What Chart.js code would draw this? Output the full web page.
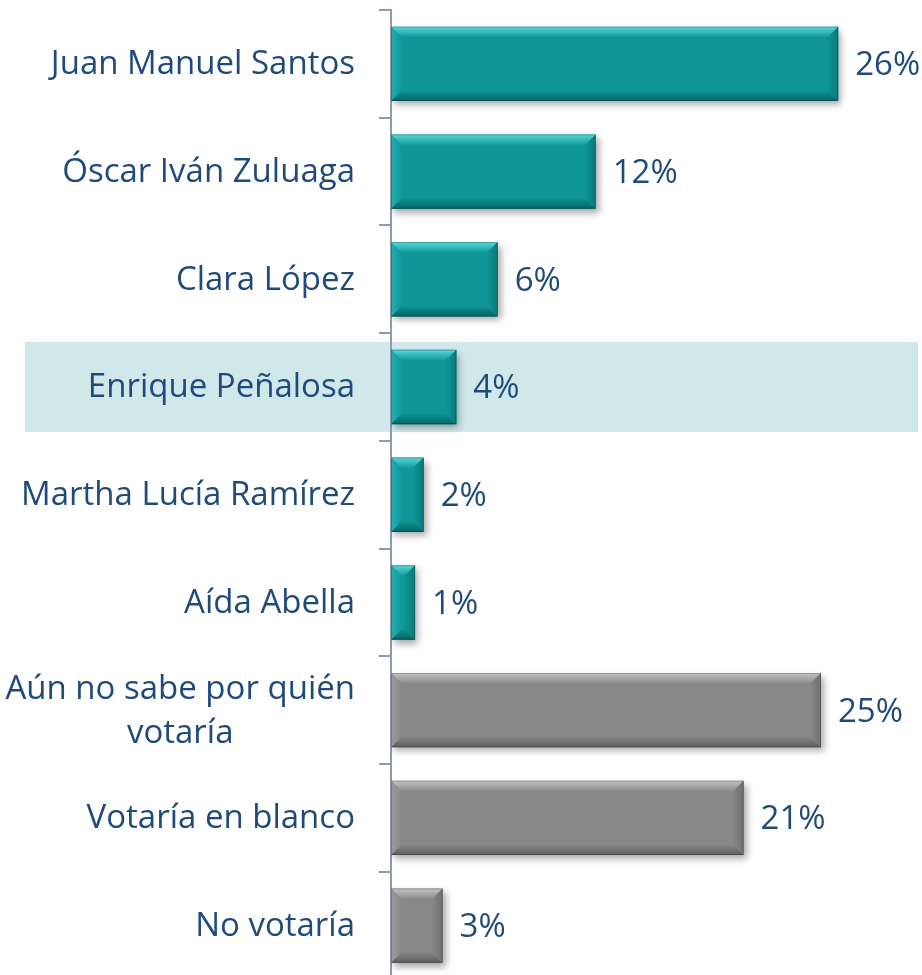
<!DOCTYPE html>
<html>
<head>
<meta charset="utf-8">
<script src="https://cdn.jsdelivr.net/npm/chart.js@4"></script>
<style>
  html, body { margin: 0; padding: 0; background: #ffffff; overflow: hidden; }
  #wrap { width: 922px; height: 975px; overflow: hidden; }
</style>
</head>
<body>
<div id="wrap"><canvas id="c" width="922" height="990"></canvas></div>
<script>
const categories = [
  'Juan Manuel Santos',
  'Óscar Iván Zuluaga',
  'Clara López',
  'Enrique Peñalosa',
  'Martha Lucía Ramírez',
  'Aída Abella',
  ['Aún no sabe por quién', 'votaría'],
  'Votaría en blanco',
  'No votaría'
];
const values = [26, 11.9, 6.2, 3.8, 1.9, 1.4, 25, 20.5, 3];
const valueLabels = ['26%', '12%', '6%', '4%', '2%', '1%', '25%', '21%', '3%'];
const groups = ['candidato', 'candidato', 'candidato', 'candidato', 'candidato', 'candidato', 'otro', 'otro', 'otro'];
const highlightIndex = 3;

const FONT = '"Open Sans", "Noto Sans", sans-serif';
const FONT_SIZE = 33;
const TEXT_COLOR = '#1f4a7c';
const PAL = {
  candidato: { base: '#0e9696', top: '#5ad9d9', left: '#24afaf', right: '#097a7a', bottom: '#056464' },
  otro:      { base: '#888888', top: '#c4c4c4', left: '#9a9a9a', right: '#707070', bottom: '#5e5e5e' }
};

const bandPlugin = {
  id: 'band',
  beforeDraw(chart) {
    const y = chart.scales.y;
    const cy = y.getPixelForValue(highlightIndex);
    const ctx = chart.ctx;
    ctx.save();
    ctx.fillStyle = '#d0e8e9';
    ctx.fillRect(25, cy - 45, 893, 90);
    ctx.restore();
  }
};

const shadowPlugin = {
  id: 'shadow',
  beforeDatasetDraw(chart) {
    const ctx = chart.ctx;
    ctx.save();
    ctx.shadowColor = 'rgba(0,0,0,0.35)';
    ctx.shadowBlur = 7;
    ctx.shadowOffsetX = 3;
    ctx.shadowOffsetY = 4;
  },
  afterDatasetDraw(chart) {
    chart.ctx.restore();
  }
};

const bevelPlugin = {
  id: 'bevel',
  afterDatasetsDraw(chart) {
    const ctx = chart.ctx;
    const meta = chart.getDatasetMeta(0);
    meta.data.forEach((bar, i) => {
      const p = PAL[groups[i]];
      const l = Math.min(bar.base, bar.x), r = Math.max(bar.base, bar.x);
      const t = bar.y - bar.height / 2, b = bar.y + bar.height / 2;
      const bv = Math.min(11, (r - l) / 2);
      const poly = (pts, fill) => {
        ctx.beginPath();
        ctx.moveTo(pts[0][0], pts[0][1]);
        for (let k = 1; k < pts.length; k++) ctx.lineTo(pts[k][0], pts[k][1]);
        ctx.closePath();
        ctx.fillStyle = fill;
        ctx.fill();
      };
      ctx.save();
      let g = ctx.createLinearGradient(0, t, 0, t + bv);
      g.addColorStop(0, p.top);
      g.addColorStop(1, p.base);
      poly([[l, t], [r, t], [r - bv, t + bv], [l + bv, t + bv]], g);
      g = ctx.createLinearGradient(0, b - bv, 0, b);
      g.addColorStop(0, p.base);
      g.addColorStop(1, p.bottom);
      poly([[l, b], [r, b], [r - bv, b - bv], [l + bv, b - bv]], g);
      g = ctx.createLinearGradient(l, 0, l + bv, 0);
      g.addColorStop(0, p.left);
      g.addColorStop(1, p.base);
      poly([[l, t], [l + bv, t + bv], [l + bv, b - bv], [l, b]], g);
      g = ctx.createLinearGradient(r - bv, 0, r, 0);
      g.addColorStop(0, p.base);
      g.addColorStop(1, p.right);
      poly([[r, t], [r - bv, t + bv], [r - bv, b - bv], [r, b]], g);
      ctx.strokeStyle = 'rgba(0,0,0,0.22)';
      ctx.lineWidth = 1;
      ctx.strokeRect(l + 0.5, t + 0.5, r - l - 1, b - t - 1);
      ctx.restore();
    });
  }
};

const labelPlugin = {
  id: 'labels',
  afterDraw(chart) {
    const ctx = chart.ctx;
    const y = chart.scales.y;
    const meta = chart.getDatasetMeta(0);
    ctx.save();
    ctx.font = FONT_SIZE + 'px ' + FONT;
    ctx.fillStyle = TEXT_COLOR;
    ctx.textBaseline = 'middle';
    const rightEdge = 355;
    const lineH = 44;
    categories.forEach((cat, i) => {
      const lines = Array.isArray(cat) ? cat : [cat];
      const cy = y.getPixelForValue(i) + 1;
      const widths = lines.map(s => ctx.measureText(s).width);
      const maxW = Math.max(...widths);
      const center = rightEdge - maxW / 2;
      ctx.textAlign = 'center';
      lines.forEach((s, k) => {
        const ly = cy + (k - (lines.length - 1) / 2) * lineH;
        ctx.fillText(s, center, ly);
      });
    });
    ctx.textAlign = 'left';
    meta.data.forEach((bar, i) => {
      ctx.fillText(valueLabels[i], bar.x + 17, bar.y + 2);
    });
    ctx.restore();
  }
};

new Chart(document.getElementById('c'), {
  type: 'bar',
  data: {
    labels: categories,
    datasets: [{
      data: values,
      backgroundColor: groups.map(g => PAL[g].base),
      borderWidth: 0,
      categoryPercentage: 1,
      barPercentage: 0.69
    }]
  },
  options: {
    indexAxis: 'y',
    responsive: false,
    animation: false,
    layout: { padding: { top: 10, bottom: 10.5, left: 0, right: 15 } },
    plugins: { legend: { display: false }, tooltip: { enabled: false } },
    scales: {
      x: { display: false, min: 0, max: 30 },
      y: {
        afterFit(scale) { scale.width = 391; },
        ticks: { display: false },
        grid: { drawOnChartArea: false, drawTicks: true, tickLength: 12, color: '#9098b6', lineWidth: 2 },
        border: { display: true, color: '#9098b6', width: 2 }
      }
    }
  },
  plugins: [bandPlugin, shadowPlugin, bevelPlugin, labelPlugin]
});
</script>
</body>
</html>
